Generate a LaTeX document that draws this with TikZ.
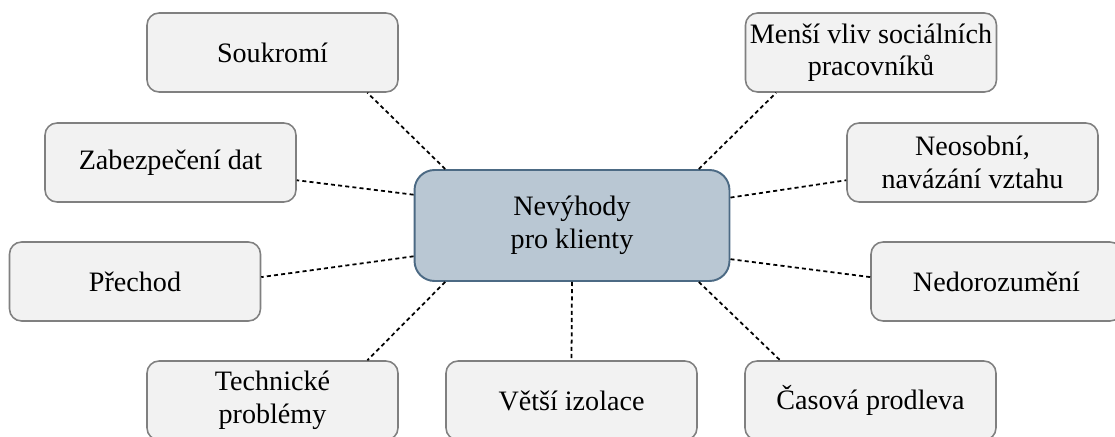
\documentclass[tikz,border=0pt]{standalone}
\usepackage{fontspec}
\setmainfont{Liberation Serif}
\usetikzlibrary{arrows.meta}

\definecolor{boxfill}{HTML}{F2F2F2}
\definecolor{boxline}{HTML}{808080}
\definecolor{mainfill}{HTML}{B9C7D3}
\definecolor{mainline}{HTML}{4C6A84}

\begin{document}
\begin{tikzpicture}[
        x=0.02cm, y=-0.02cm,
        font=\fontsize{16}{18.5}\selectfont,
        box/.style={rectangle, rounded corners=0.24cm, draw=boxline, fill=boxfill,
                    line width=0.9pt, minimum width=5.02cm, minimum height=1.58cm,
                    inner sep=0pt, align=center},
        hub/.style={rectangle, rounded corners=0.4cm, draw=mainline, fill=mainfill,
                    line width=1.1pt, minimum width=6.3cm, minimum height=2.22cm,
                    inner sep=0pt, align=center},
        link/.style={black, line width=1pt, dash pattern=on 2.3pt off 1.8pt}
      ]
        \clip (0,0) rectangle (1115,436);
        \useasboundingbox (0,0) rectangle (1115,436);

        \node[hub] (main) at (572,225.5) {Nevýhody\\pro klienty};

        \node[box] (priv)  at (272.5,52.5)  {Soukromí};
        \node[box] (data)  at (170.5,162.5) {Zabezpečení dat};
        \node[box] (prech) at (135,281.5)   {Přechod};
        \node[box] (tech)  at (272.5,400.5) {Technické\\problémy};
        \node[box] (izol)  at (571.5,400.5) {Větší izolace};
        \node[box] (cas)   at (870.5,400.5) {Časová prodleva};
        \node[box] (nedor) at (996.5,281.5) {Nedorozumění};
        \node[box] (neos)  at (972.5,162.5) {Neosobní,\\navázání vztahu};
        \node[box] (vliv)  at (871,52.5)    {Menší vliv sociálních\\pracovníků};

        \draw[link] (main.156) -- (priv.-23);
        \draw[link] (main.169) -- (data.-8);
        \draw[link] (main.191) -- (prech.2);
        \draw[link] (main.204) -- (tech.23);
        \draw[link] (main.south) -- (izol.north);
        \draw[link] (main.-24) -- (cas.156);
        \draw[link] (main.-12) -- (nedor.178);
        \draw[link] (main.10) -- (neos.188);
        \draw[link] (main.24) -- (vliv.203);
      \end{tikzpicture}
\end{document}
